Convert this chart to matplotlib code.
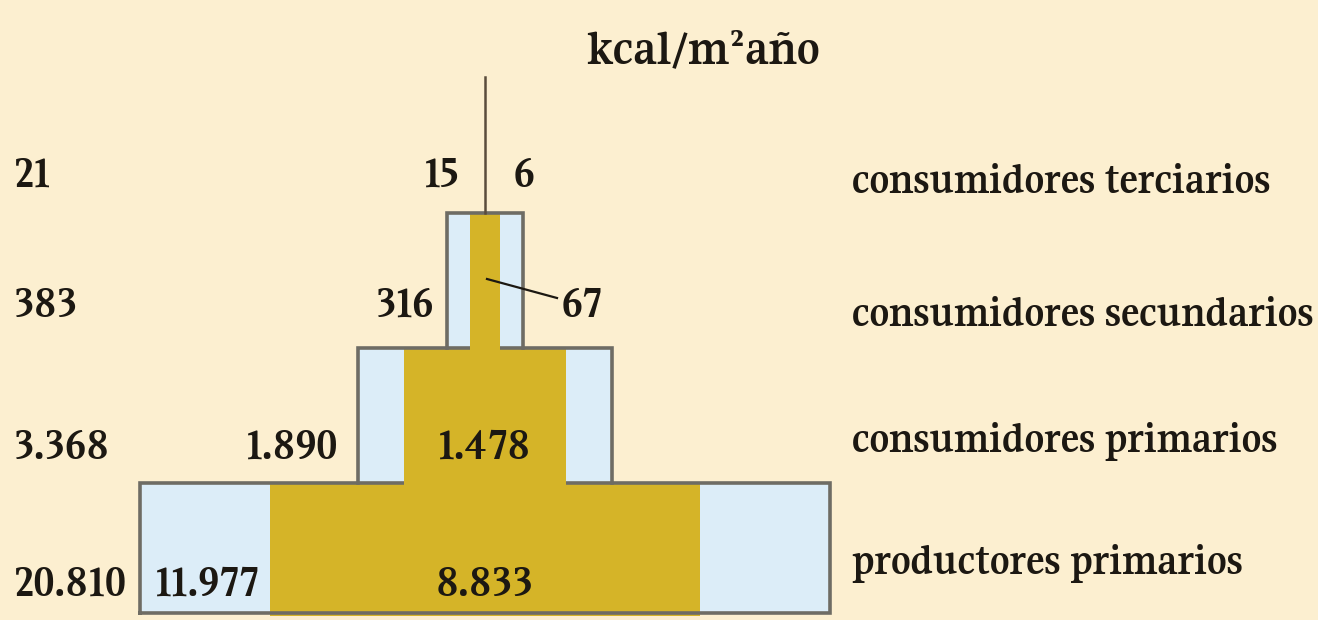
import matplotlib
matplotlib.use("Agg")
import matplotlib.pyplot as plt
from matplotlib.patches import Rectangle

# datos (kcal/m2 año), de abajo hacia arriba
niveles = ["productores primarios", "consumidores primarios",
           "consumidores secundarios", "consumidores terciarios"]
total = [20810, 3368, 383, 21]
respiracion = [11977, 1890, 316, 15]
neta = [8833, 1478, 67, 6]
unidad = "kcal/m²año"

# estilo
bg = "#fcefd0"
azul = "#dcedf8"
oro = "#d5b428"
borde = "#6e6c64"
tinta = "#1c1812"
fuente = ["Gupter", "Liberation Serif", "DejaVu Serif"]
fs_num = 32.5
fs_txt = 31

plt.rcParams["font.family"] = fuente


def ancho(v):
    # escala de potencia para el ancho de cada escalón
    return 2.91 * v ** 0.55


def fmt(v):
    return f"{v:,}".replace(",", ".")


def num(x, y, v, ha, z=10):
    ax.text(x, y, fmt(v), ha=ha, va="baseline", fontsize=fs_num,
            weight="bold", color=tinta, zorder=z)


fig = plt.figure(figsize=(13.18, 6.2), dpi=100, facecolor=bg)
ax = fig.add_axes([0, 0, 1, 1])
ax.set_xlim(0, 1318)
ax.set_ylim(620, 0)
ax.axis("off")

cx = 485
techo = [483, 348, 213, 77]     # borde superior de cada escalón
suelo = [613, 483, 348, 213]    # borde inferior
base_num = [596, 459, 317, 187]  # línea base de las cifras
base_txt = [574, 452, 326, 193]  # línea base de los nombres

for i in range(len(niveles)):
    top, bot = techo[i], suelo[i]
    if i < len(niveles) - 1:
        w = ancho(total[i])
        wn = ancho(neta[i])
        x0, x1 = cx - w / 2, cx + w / 2
        ax.add_patch(Rectangle((x0, top), w, bot - top, facecolor=azul,
                               edgecolor="none", zorder=1))
        ax.add_patch(Rectangle((cx - wn / 2, top), wn, bot - top + 3,
                               facecolor=oro, edgecolor="none", zorder=2 + 2 * i))
        xs = [x0, x0, x1, x1]
        ys = [bot, top, top, bot]
        if i == 0:
            xs = [x0] + xs + [x0]
            ys = [bot] + ys + [bot]
        ax.plot(xs, ys, color=borde, lw=2.6, solid_joinstyle="miter",
                zorder=3 + 2 * i)
    else:
        ax.plot([cx, cx], [top, bot], color="#5a4c3c", lw=1.8, zorder=9)

    # total a la izquierda
    num(14, base_num[i], total[i], "left")
    # nombre del nivel a la derecha
    ax.text(852, base_txt[i], niveles[i], ha="left", va="baseline",
            fontsize=fs_txt, weight="bold", color=tinta)

# respiración y producción neta
w0 = ancho(total[0])
wn0 = ancho(neta[0])
num(cx - wn0 / 2 - 10, base_num[0], respiracion[0], "right")
num(cx, base_num[0], neta[0], "center")

num(cx - ancho(total[1]) / 2 - 20, base_num[1], respiracion[1], "right")
num(cx, base_num[1], neta[1], "center")

num(cx - ancho(total[2]) / 2 - 12, base_num[2], respiracion[2], "right")
ax.plot([cx + 2, 557], [base_num[2] - 38, base_num[2] - 19], color=tinta,
        lw=1.6, zorder=10)
num(562, base_num[2], neta[2], "left")

num(cx - 25, base_num[3], respiracion[3], "right")
num(cx + 29, base_num[3], neta[3], "left")

ax.text(703, 63, unidad, ha="center", va="baseline", fontsize=36,
        weight="bold", color=tinta)

fig.savefig("out.png", facecolor=bg)
